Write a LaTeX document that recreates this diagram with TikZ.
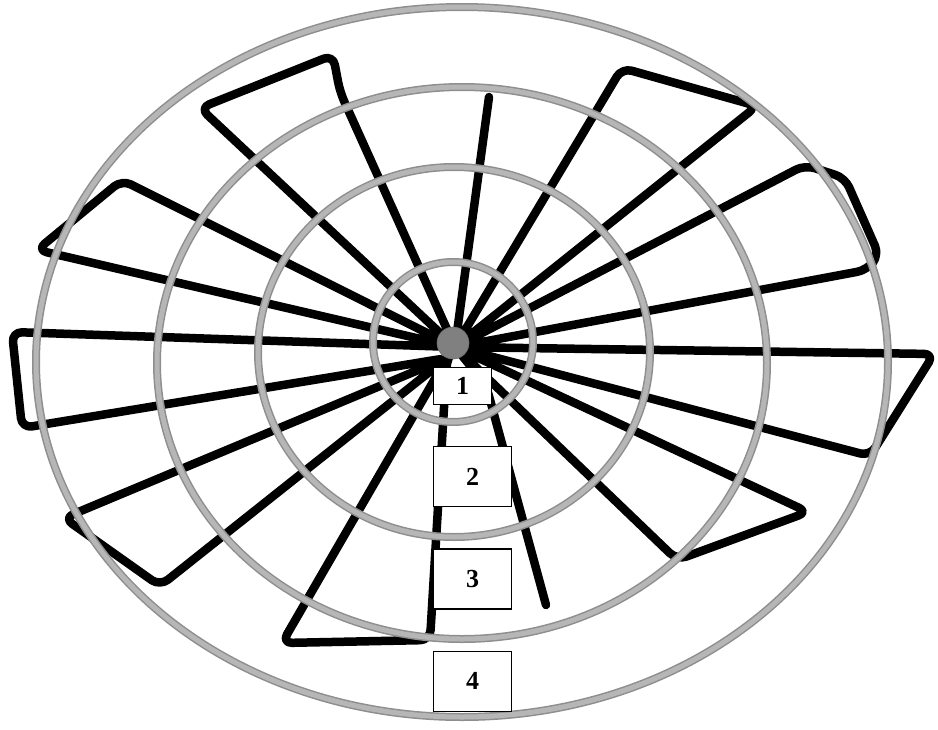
\documentclass[tikz,border=0pt]{standalone}
\usepackage{fontspec}
\setmainfont{Liberation Serif}
\usepackage{tikz}
\usetikzlibrary{positioning}

\definecolor{ringedge}{HTML}{8E8E8E}
\definecolor{ringfill}{HTML}{B6B6B6}
\definecolor{hubgray}{HTML}{808080}

\begin{document}
\begin{tikzpicture}[
x=1pt, y=-1pt,
node distance=41pt,
ring/.style={
    draw=ringedge,
    line width=1.5pt,
    double=ringfill,
    double distance=5pt
},
wire/.style={line width=8.5pt, line join=round, line cap=round, rounded corners=10pt},
hub/.style={circle, fill=hubgray, draw=hubgray!85!black, line width=0.6pt,
    minimum size=32pt, inner sep=0pt},
numbox/.style={
    draw,
    fill=white,
    line width=1.2pt,
    minimum width=78pt,
    minimum height=60pt,
    inner sep=0pt,
    font=\fontsize{26}{26}\selectfont\bfseries
}
]
\useasboundingbox (0,0) rectangle (938,729);

\coordinate (c) at (455,347);
\coordinate (c2) at (447,358);

% right half of the line
\draw[wire] (546,605) -- (486,385) -- (c) -- (677,560) -- (808,512) -- (c)
    -- (870,456) -- (934,354) -- (c)
    -- (867,270) -- (879,255) -- (845,178) -- (805,165) -- (c)
    -- (757,106) -- (622,68) -- (c) -- (489,97);

% left half
\draw[wire] (c) -- (340,92) -- (333,55) -- (200,108) -- (c)
    -- (122,180) -- (37,250) -- (c)
    -- (12,332) -- (22,428) -- (c2)
    -- (64,518) -- (160,586) -- (c2)
    -- (282,643) -- (430,640) -- (c2) -- (c);

% rings
\draw[ring] (453,342) circle [radius=80];
\draw[ring] (454,352) ellipse [x radius=196, y radius=185];
\draw[ring] (462,363) ellipse [x radius=305, y radius=276];
\draw[ring] (462,362) ellipse [x radius=426, y radius=355];

\node[hub] (hub) at (453,343) {};

\node[numbox, minimum width=58pt, minimum height=37pt] (b1) at (462.5,386) {1};
\node[numbox, below=of b1.south west, anchor=north west] (b2) {2};
\node[numbox, below=of b2] (b3) {3};
\node[numbox, below=of b3] (b4) {4};

\end{tikzpicture}
\end{document}
